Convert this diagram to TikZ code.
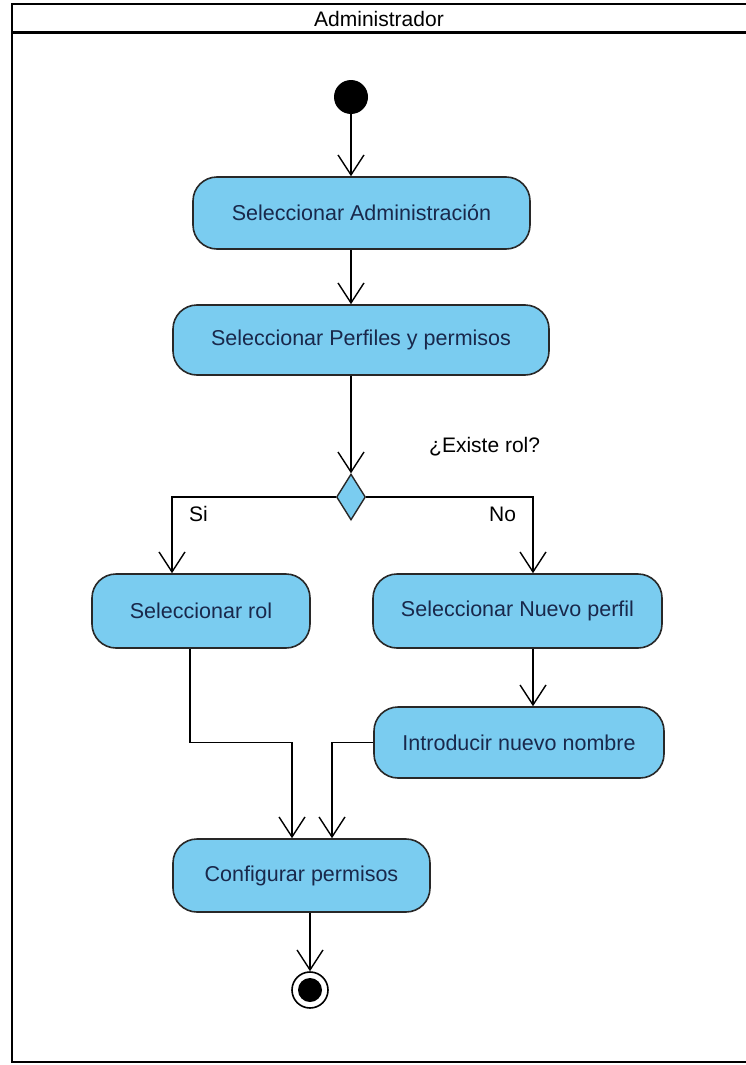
\documentclass[tikz,border=0pt]{standalone}
\usepackage{fontspec}
\setmainfont{Liberation Sans}
\usetikzlibrary{arrows.meta,shapes.geometric}
\definecolor{actfill}{RGB}{122,204,240}
\definecolor{actline}{RGB}{40,40,40}
\definecolor{acttext}{RGB}{25,40,75}
\tikzset{
  act/.style={draw=actline, line width=1.6pt, fill=actfill, rounded corners=24pt,
    inner sep=0pt, text=acttext, font=\fontsize{21.5}{24}\selectfont},
  flow/.style={draw=black, line width=1.4pt,
    -{Straight Barb[length=20pt,width=26pt,line width=1.4pt]}},
  guard/.style={font=\fontsize{21}{24}\selectfont, text=black, inner sep=0pt},
  decision/.style={diamond, draw=actline, line width=1.4pt, fill=actfill,
    minimum width=29pt, minimum height=46pt, inner sep=0pt, aspect=0.6},
}
\begin{document}
\begin{tikzpicture}[x=1pt,y=-1pt]
\useasboundingbox (0,0) rectangle (746,1065);
\fill[white] (0,0) rectangle (746,1065);

% swimlane frame
\draw[line width=2.6pt] (746,4) -- (12,4) -- (12,1062) -- (746,1062);
\draw[line width=3pt] (12,33) -- (746,33);
\node[font=\fontsize{21}{24}\selectfont, inner sep=0pt] (lane) at (379,19) {Administrador};

% initial node
\node[circle, fill=black, minimum size=34pt, inner sep=0pt] (init) at (351,97) {};

% activities
\node[act, minimum width=337pt, minimum height=72pt] (adm) at (361.5,213) {Seleccionar Administración};
\node[act, minimum width=376pt, minimum height=70pt] (perf) at (361,340) {Seleccionar Perfiles y permisos};
\node[decision] (dec) at (351,497) {};
\node[act, minimum width=218pt, minimum height=74pt] (rol) at (201,611) {Seleccionar rol};
\node[act, minimum width=289pt, minimum height=74pt] (nuevo) at (517.5,611) {Seleccionar Nuevo perfil};
\node[act, minimum width=290pt, minimum height=71pt] (nombre) at (519,742.5) {Introducir nuevo nombre};
\node[act, minimum width=257pt, minimum height=73pt] (conf) at (301.5,875.5) {Configurar permisos};

% final node
\node[circle, draw=black, line width=1.6pt, fill=white, minimum size=36pt, inner sep=0pt] (fin) at (310,990) {};
\node[circle, fill=black, minimum size=24pt, inner sep=0pt] (findot) at (fin.center) {};

% guard labels
\node[guard, anchor=west] (q) at (429,447) {¿Existe rol?};
\node[guard, anchor=west] (si) at (189,514) {Si};
\node[guard, anchor=west] (no) at (489,514) {No};

% bend points
\coordinate (lft) at (172,497);
\coordinate (rgt) at (533,497);
\coordinate (b1) at (190,742.5);
\coordinate (b2) at (292,742.5);
\coordinate (b3) at (332,742.5);

% flows
\draw[flow] (init) -- (adm.north -| init);
\draw[flow] (adm.south -| init) -- (perf.north -| init);
\draw[flow] (perf.south -| dec) -- (dec.north);
\draw[flow] (dec.west) -- (lft) -- (rol.north -| lft);
\draw[flow] (dec.east) -- (rgt) -- (nuevo.north -| rgt);
\draw[flow] (nuevo.south -| rgt) -- (nombre.north -| rgt);
\draw[flow] (rol.south -| b1) -- (b1) -- (b2) -- (conf.north -| b2);
\draw[flow] (nombre.west) -- (b3) -- (conf.north -| b3);
\draw[flow] (conf.south -| fin) -- (fin.north);
\end{tikzpicture}
\end{document}
